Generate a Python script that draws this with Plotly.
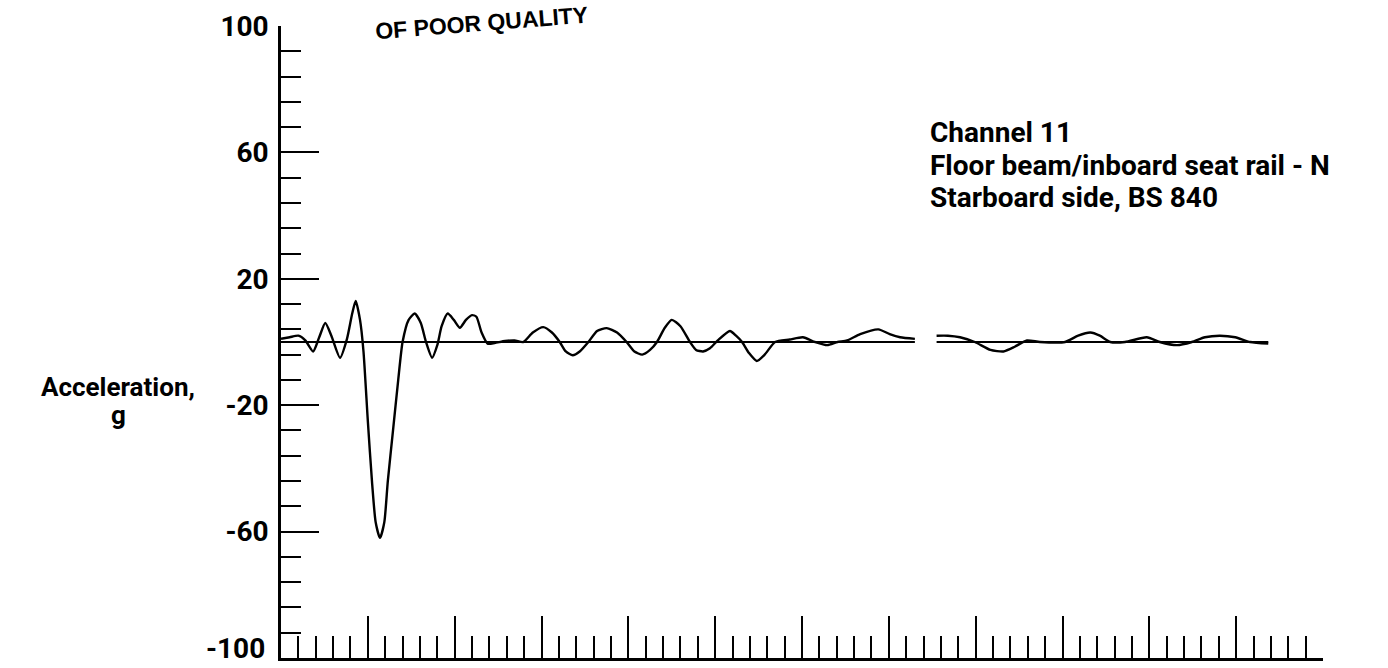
import plotly.graph_objects as go

# Time in chart divisions (one major tick = one division), acceleration in g
time_div = [
    0.00, 0.10, 0.20, 0.28, 0.37, 0.44, 0.51, 0.58, 0.68, 0.76,
    0.82, 0.86, 0.91, 0.95, 1.00, 1.05, 1.09, 1.14, 1.19, 1.23,
    1.29, 1.35, 1.40, 1.47, 1.54, 1.61, 1.67, 1.74, 1.80, 1.85,
    1.92, 1.99, 2.06, 2.13, 2.20, 2.25, 2.31, 2.38, 2.46, 2.58,
    2.69, 2.79, 2.90, 3.02, 3.12, 3.21, 3.28, 3.36, 3.44, 3.54,
    3.64, 3.75, 3.87, 3.98, 4.07, 4.16, 4.25, 4.33, 4.42, 4.50,
    4.60, 4.71, 4.78, 4.86, 4.94, 5.03, 5.17, 5.24, 5.31, 5.39,
    5.48, 5.57, 5.69, 5.86, 6.01, 6.15, 6.29, 6.41, 6.52, 6.67,
    6.88, 7.01, 7.13, 7.30, None, 7.55, 7.68, 7.82, 7.99, 8.17,
    8.32, 8.45, 8.59, 8.74, 9.03, 9.18, 9.32, 9.43, 9.55, 9.72,
    9.97, 10.12, 10.32, 10.49, 10.64, 10.81, 10.99, 11.16, 11.37,
]
accel_g = [
    1.0, 1.5, 2.0, 0.5, -3.0, 1.5, 6.0, 2.0, -5.0, 1.0,
    9.0, 13.0, 7.0, -3.0, -25.0, -45.0, -57.0, -62.0, -57.0, -44.0,
    -28.0, -12.0, 0.0, 7.0, 9.0, 6.0, 0.0, -5.0, -1.0, 5.0,
    9.0, 7.0, 4.5, 7.0, 8.5, 8.0, 3.0, -0.5, -0.3, 0.3,
    0.5, 0.0, 3.0, 4.7, 3.0, 0.0, -3.0, -4.2, -3.0, 0.0,
    3.5, 4.4, 3.0, 0.0, -3.0, -4.0, -2.5, 0.0, 4.5, 7.0,
    5.0, 0.0, -2.5, -3.0, -2.0, 0.5, 3.5, 2.0, 0.0, -3.5,
    -6.0, -4.0, 0.0, 0.8, 1.5, 0.0, -1.0, 0.0, 0.5, 2.5,
    4.0, 2.5, 1.5, 1.0, None, 2.0, 2.0, 1.5, 0.0, -2.5,
    -3.0, -1.5, 0.5, 0.0, 0.0, 2.0, 3.0, 2.0, 0.0, 0.0,
    1.5, 0.0, -1.0, 0.0, 1.5, 2.0, 1.5, 0.0, -0.5,
]

# Zero reference line, broken where the record has a gap
baseline_time = [0.0, 7.30, None, 7.55, 11.37]
baseline_g = [0.0, 0.0, None, 0.0, 0.0]

y_tick_values = [100, 60, 20, -20, -60, -100]
y_tick_labels = ["100", "60", "20", "-20", "-60", ""]
y_bottom_label = "-100"

channel_lines = [
    "Channel 11",
    "Floor beam/inboard seat rail - N",
    "Starboard side, BS 840",
]

LABEL_FONT = "Roboto, Liberation Sans, Arial, sans-serif"
INK = "#000000"

fig = go.Figure()

fig.add_trace(go.Scatter(
    x=baseline_time, y=baseline_g, mode="lines",
    line=dict(color=INK, width=2), connectgaps=False,
    hoverinfo="skip", showlegend=False,
))
fig.add_trace(go.Scatter(
    x=time_div, y=accel_g, mode="lines",
    line=dict(color=INK, width=2.4, shape="spline", smoothing=0.6),
    connectgaps=False, showlegend=False,
))

fig.update_layout(
    width=1388, height=668,
    margin=dict(l=281, r=65, t=22, b=10),
    paper_bgcolor="white", plot_bgcolor="white",
    showlegend=False,
    xaxis=dict(
        range=[0, 12], showgrid=False, zeroline=False,
        showline=True, linecolor=INK, linewidth=2.5,
        ticks="inside", tickmode="linear", tick0=0, dtick=1,
        ticklen=42, tickwidth=2, tickcolor=INK,
        showticklabels=False,
        minor=dict(ticks="inside", tick0=0, dtick=0.2, ticklen=22,
                   tickwidth=2, tickcolor=INK, showgrid=False),
    ),
    yaxis=dict(
        range=[-100, 100], showgrid=False, zeroline=False,
        showline=True, linecolor=INK, linewidth=2.5,
        ticks="inside", tickmode="array",
        tickvals=y_tick_values, ticktext=y_tick_labels,
        ticklen=38, tickwidth=2, tickcolor=INK,
        ticklabelstandoff=4,
        tickfont=dict(family=LABEL_FONT, size=28, color=INK, weight="bold"),
        minor=dict(ticks="inside", tick0=100, dtick=8, ticklen=20,
                   tickwidth=2, tickcolor=INK, showgrid=False),
    ),
)

# Bottom tick label, lifted clear of the page edge
fig.add_annotation(
    x=-14 / 1042, y=-96.9, xref="paper", yref="y", text=y_bottom_label,
    showarrow=False, xanchor="right", yanchor="middle",
    font=dict(family=LABEL_FONT, size=28, color=INK, weight="bold"),
)

# Channel description block
for text, yv in zip(channel_lines, [66.3, 56.0, 45.7]):
    fig.add_annotation(
        x=7.46, y=yv, xref="x", yref="y", text=text,
        showarrow=False, xanchor="left", yanchor="middle", borderpad=0,
        font=dict(family=LABEL_FONT, size=28, color=INK, weight="bold"),
    )

# Y-axis title
fig.add_annotation(
    x=-0.156, y=-14.2, xref="paper", yref="y", text="Acceleration,",
    showarrow=False, xanchor="center", yanchor="middle",
    font=dict(family=LABEL_FONT, size=26, color=INK, weight="bold"),
)
fig.add_annotation(
    x=-0.156, y=-23.0, xref="paper", yref="y", text="g",
    showarrow=False, xanchor="center", yanchor="middle",
    font=dict(family=LABEL_FONT, size=26, color=INK, weight="bold"),
)

# Stamp near the top of the page
fig.add_annotation(
    x=(481 - 281) / 1042, y=1.004,
    xref="paper", yref="paper", text="OF POOR QUALITY",
    showarrow=False, xanchor="center", yanchor="middle", textangle=-4.5,
    font=dict(family="Liberation Sans, Arial, sans-serif", size=23,
              color=INK, weight="bold"),
)

fig.write_html("out.html")
